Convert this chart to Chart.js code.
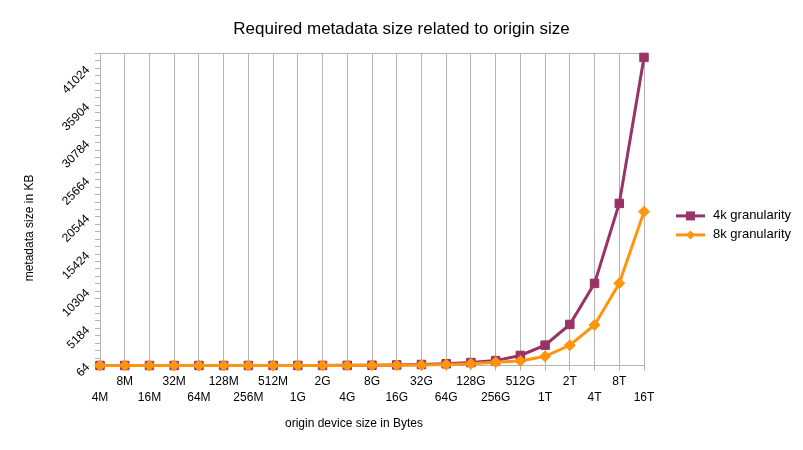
<!DOCTYPE html>
<html><head><meta charset="utf-8">
<script src="https://cdn.jsdelivr.net/npm/chart.js@4/dist/chart.umd.min.js"></script>
<style>html,body{margin:0;padding:0;background:#fff;}#wrap{width:803px;height:450px;}</style>
</head><body><div id="wrap"><canvas id="c" width="803" height="450"></canvas></div>
<script>
const categories = ['4M','8M','16M','32M','64M','128M','256M','512M','1G','2G','4G','8G','16G','32G','64G','128G','256G','512G','1T','2T','4T','8T','16T'];
const series4k = [64, 64, 64, 64, 65, 65, 66, 68, 70, 74, 82, 98, 140, 200, 300, 470, 740, 1450, 2870, 5720, 11380, 22400, 42520];
const series8k = [64, 64, 64, 64, 64, 65, 65, 66, 67, 69, 73, 82, 100, 130, 190, 310, 500, 700, 1330, 2850, 5650, 11390, 21250];
const seriesNames = ['4k granularity', '8k granularity'];
const seriesColors = ['#993366', '#ff950e'];
const yTickLabels = [64, 5184, 10304, 15424, 20544, 25664, 30784, 35904, 41024];
const yMin = 64, yMax = 43072, yMinorStep = 1024;
const chartTitle = 'Required metadata size related to origin size';
const xTitle = 'origin device size in Bytes';
const yTitle = 'metadata size in KB';

Chart.defaults.font.family = '"Liberation Sans", Arial, sans-serif';
Chart.defaults.color = '#000';

const gridColor = '#b3b3b3';

const extras = {
  id: 'extras',
  afterDraw(chart) {
    const ctx = chart.ctx, a = chart.chartArea;
    ctx.save();
    ctx.fillStyle = '#000';
    ctx.textAlign = 'center';
    ctx.textBaseline = 'middle';
    ctx.font = '17px "Liberation Sans", Arial, sans-serif';
    ctx.fillText(chartTitle, chart.width / 2, 29.2);
    ctx.font = '12px "Liberation Sans", Arial, sans-serif';
    ctx.fillText(xTitle, (a.left + a.right) / 2 - 18, a.bottom + 58.5);
    ctx.save();
    ctx.translate(30, (a.top + a.bottom) / 2 + 18.5);
    ctx.rotate(-Math.PI / 2);
    ctx.fillText(yTitle, 0, 0);
    ctx.restore();
    // legend
    ctx.font = '13px "Liberation Sans", Arial, sans-serif';
    ctx.textAlign = 'left';
    chart.data.datasets.forEach((ds, i) => {
      const y = a.top + 162.5 + i * 19;
      const x0 = a.right + 32, x1 = a.right + 61, xm = a.right + 46.5;
      ctx.strokeStyle = ds.borderColor;
      ctx.lineWidth = 3;
      ctx.beginPath(); ctx.moveTo(x0, y); ctx.lineTo(x1, y); ctx.stroke();
      ctx.fillStyle = ds.borderColor;
      ctx.beginPath();
      if (ds.pointStyle === 'rect') {
        ctx.rect(xm - 4.5, y - 4.5, 9, 9);
      } else {
        ctx.moveTo(xm, y - 4.5); ctx.lineTo(xm + 4.5, y); ctx.lineTo(xm, y + 4.5); ctx.lineTo(xm - 4.5, y); ctx.closePath();
      }
      ctx.fill();
      ctx.fillStyle = '#000';
      ctx.fillText(ds.label, a.right + 69, y);
    });
    ctx.restore();
  }
};

new Chart(document.getElementById('c'), {
  type: 'line',
  data: {
    labels: categories.map((c, i) => i % 2 ? [c] : ['', c]),
    datasets: [
      { label: seriesNames[0], data: series4k, borderColor: seriesColors[0], backgroundColor: seriesColors[0],
        borderWidth: 3, pointStyle: 'rect', pointRadius: 6, pointBorderWidth: 1, tension: 0, order: 1, clip: false },
      { label: seriesNames[1], data: series8k, borderColor: seriesColors[1], backgroundColor: seriesColors[1],
        borderWidth: 3, pointStyle: 'rectRot', pointRadius: 5.5, pointBorderWidth: 1, tension: 0, order: 0, clip: false }
    ]
  },
  options: {
    responsive: false,
    animation: false,
    devicePixelRatio: 1,
    layout: { padding: { left: 0, right: 159, top: 53.4, bottom: 0 } },
    plugins: {
      legend: { display: false },
      tooltip: { enabled: false },
      title: { display: false }
    },
    scales: {
      x: {
        type: 'category',
        offset: false,
        afterFit: s => { s.height = 84.5; },
        ticks: { autoSkip: false, maxRotation: 0, minRotation: 0, padding: 3, color: '#000', font: { size: 12, lineHeight: 1.33 } },
        grid: { color: gridColor, tickColor: gridColor, tickLength: 5, drawTicks: true, lineWidth: 1 },
        border: { color: gridColor }
      },
      y: {
        min: yMin, max: yMax,
        afterBuildTicks: s => { const t = []; for (let v = yMin; v <= yMax; v += yMinorStep) t.push({ value: v }); s.ticks = t; },
        afterFit: s => { s.width = 100; },
        ticks: { autoSkip: false, minRotation: 45, maxRotation: 45, padding: 7, color: '#000', font: { size: 12 },
          callback: v => yTickLabels.includes(v) ? String(v) : '' },
        grid: { drawOnChartArea: true, color: c => (c.tick && c.tick.value === yMax) ? gridColor : 'rgba(0,0,0,0)',
          tickColor: gridColor, tickLength: 5, drawTicks: true },
        border: { color: gridColor }
      }
    }
  },
  plugins: [extras]
});
</script>
</body></html>
